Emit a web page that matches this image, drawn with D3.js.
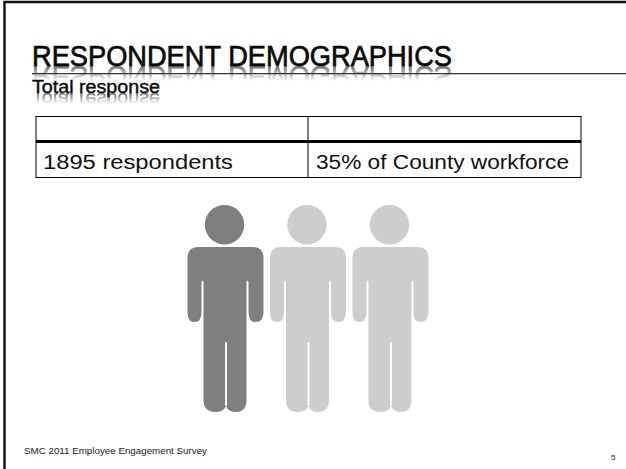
<!DOCTYPE html>
<html>
<head>
<meta charset="utf-8">
<script src="https://cdn.jsdelivr.net/npm/d3@7"></script>
<style>
html,body{margin:0;padding:0;background:#fff;overflow:hidden}
svg{display:block}
</style>
</head>
<body>
<svg id="slide" width="626" height="469"></svg>
<script>
// Slide content
const titleText = "RESPONDENT DEMOGRAPHICS";
const subtitleText = "Total response";
const tableRows = [["", ""], ["1895 respondents", "35% of County workforce"]];
const footerText = "SMC 2011 Employee Engagement Survey";
const pageNumber = "5";

// Pictogram: one dark figure out of three, roughly the 35% response share
const people = ["p1", "p2", "p3"];
const highlighted = ["p1"];
const darkGrey = "#7f7f7f";
const lightGrey = "#cdcdcd";

const svg = d3.select("#slide");
const narrow = "'Liberation Sans Narrow','Liberation Sans',sans-serif";
const defs = svg.append("defs");

// Fading mask and soft blur for the mirrored text under the headings
const grad = defs.append("linearGradient").attr("id", "fade").attr("x1", 0).attr("x2", 0).attr("y1", 0).attr("y2", 1);
grad.append("stop").attr("offset", 0).attr("stop-color", "#fff").attr("stop-opacity", 0.6);
grad.append("stop").attr("offset", 1).attr("stop-color", "#fff").attr("stop-opacity", 0);
defs.append("filter").attr("id", "soft").append("feGaussianBlur").attr("stdDeviation", 0.5);

function addMask(id, y, h) {
  defs.append("mask").attr("id", id).attr("maskUnits", "userSpaceOnUse")
    .attr("x", 0).attr("y", y).attr("width", 626).attr("height", h)
    .append("rect").attr("x", 0).attr("y", y).attr("width", 626).attr("height", h).attr("fill", "url(#fade)");
}
addMask("titleFade", 66, 15);
addMask("subFade", 93, 11);

// Slide frame: open on the right and at the bottom
svg.append("path").attr("d", d3.line()([[4.5, 469], [4.5, 2], [626, 2]]))
  .attr("fill", "none").attr("stroke", "#111").attr("stroke-width", 2.4);

// Heading with its reflection
function heading(text, x, base, size, width, stroke, maskId) {
  const put = g => g.append("text").attr("x", x).attr("y", 0)
    .attr("font-family", narrow).attr("font-size", size)
    .attr("textLength", width).attr("lengthAdjust", "spacingAndGlyphs")
    .attr("fill", "#0a0a0a").attr("stroke", "#0a0a0a").attr("stroke-width", stroke).text(text);
  svg.append("g").attr("mask", `url(#${maskId})`)
    .append("g").attr("filter", "url(#soft)").attr("transform", `translate(0,${base}) scale(1,-1)`)
    .call(put);
  svg.append("g").attr("transform", `translate(0,${base})`).call(put);
}
heading(titleText, 32, 66, 29, 420, 0.7, "titleFade");

// Rule under the title
svg.append("line").attr("x1", 32).attr("x2", 626).attr("y1", 73.7).attr("y2", 73.7)
  .attr("stroke", "#333").attr("stroke-width", 1.3);

heading(subtitleText, 32, 92.7, 17.5, 128, 0.4, "subFade");

// Table
const colEdges = [36, 308, 581];
const rowEdges = [116.5, 141.5, 177.5];
const table = svg.append("g").attr("stroke", "#000");
table.append("rect").attr("x", colEdges[0]).attr("y", rowEdges[0])
  .attr("width", colEdges[2] - colEdges[0]).attr("height", rowEdges[2] - rowEdges[0])
  .attr("fill", "none").attr("stroke-width", 1);
table.append("line").attr("x1", colEdges[1]).attr("x2", colEdges[1]).attr("y1", rowEdges[0]).attr("y2", rowEdges[2]);
table.append("line").attr("x1", colEdges[0]).attr("x2", colEdges[2]).attr("y1", rowEdges[1]).attr("y2", rowEdges[1]).attr("stroke-width", 3);

svg.append("g").selectAll("text").data(tableRows[1]).join("text")
  .attr("x", (d, i) => colEdges[i] + (i ? 8 : 7))
  .attr("y", 168.5)
  .attr("font-family", "'Liberation Sans',sans-serif").attr("font-size", 20)
  .attr("textLength", (d, i) => i ? 253 : 190).attr("lengthAdjust", "spacingAndGlyphs")
  .attr("fill", "#111").text(d => d);

// Figure outline in its own 76 x 165 drawing box
const figure = "M0 11 Q0 0 11 0 L65 0 Q76 0 76 11 L76 65 Q76 75 68 75 Q61 75 61 65 L61 35 Q60 32 59 35 L59 153 Q59 165 48 165 Q41 165 38.5 159 Q36 165 28 165 Q16 165 16 153 L16 35 Q15 32 14 35 L14 65 Q14 75 7 75 Q0 75 0 65 Z";
const slitLeg = "M38.5 96 L38.5 158";

const xScale = d3.scaleBand().domain(people).range([187.5, 427.5]).paddingInner(0.09);
const shapes = svg.append("g").selectAll("g").data(people).join("g")
  .attr("transform", d => `translate(${xScale(d)},205)`)
  .attr("fill", d => highlighted.includes(d) ? darkGrey : lightGrey);
shapes.append("circle").attr("cx", 37).attr("cy", 19.7).attr("r", 19.7);
shapes.append("path").attr("transform", "translate(0,42)").attr("d", figure);
shapes.append("path").attr("transform", "translate(0,42)").attr("d", slitLeg)
  .attr("stroke", "#fff").attr("stroke-width", 2).attr("stroke-linecap", "round");

// Footer
svg.append("text").attr("x", 24).attr("y", 454).attr("font-family", "'Liberation Sans',sans-serif")
  .attr("font-size", 9).attr("textLength", 183).attr("lengthAdjust", "spacingAndGlyphs").attr("fill", "#222").text(footerText);
svg.append("text").attr("x", 611).attr("y", 460).attr("font-family", "'Liberation Sans',sans-serif")
  .attr("font-size", 8).attr("fill", "#222").text(pageNumber);
</script>
</body>
</html>
